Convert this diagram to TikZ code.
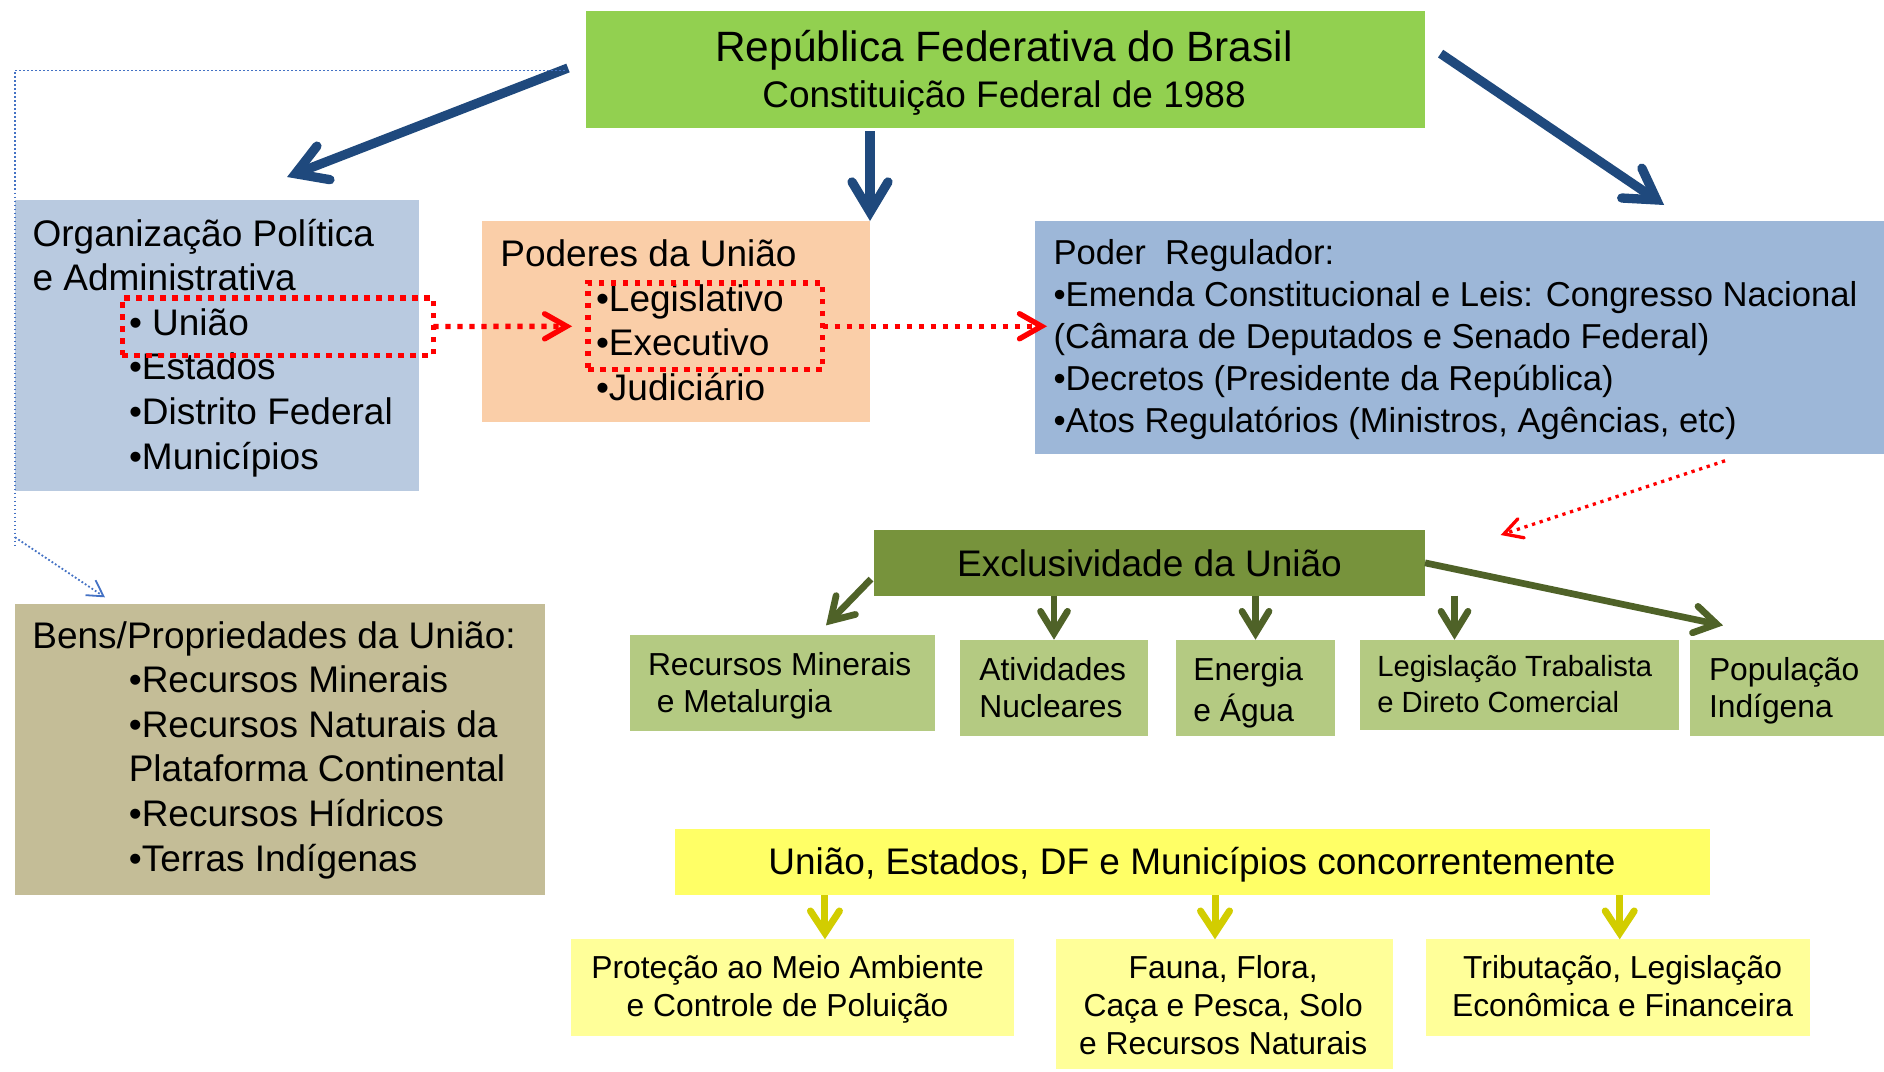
\documentclass[tikz,border=0pt]{standalone}
\usepackage{fontspec}
\setmainfont{Liberation Sans}
\usetikzlibrary{arrows.meta,calc}
\definecolor{repgreen}{HTML}{92D050}
\definecolor{orgblue}{RGB}{185,202,224}
\definecolor{regblue}{RGB}{157,183,216}
\definecolor{peach}{RGB}{250,206,168}
\definecolor{benstan}{HTML}{C4BD97}
\definecolor{excolive}{HTML}{77933C}
\definecolor{olivedark}{HTML}{4F6228}
\definecolor{olivelight}{RGB}{180,202,130}
\definecolor{concyellow}{HTML}{FFFF66}
\definecolor{lightyellow}{HTML}{FFFF99}
\definecolor{yelarrow}{RGB}{210,205,0}
\definecolor{arrowblue}{HTML}{1F497D}
\definecolor{dotblue}{RGB}{68,114,196}
\begin{document}
\begin{tikzpicture}[x=1pt,y=-1pt,
	box/.style={rectangle,anchor=north west,inner sep=0pt,outer sep=0pt},
	txt/.style={align=left,anchor=north west},
	ctxt/.style={align=center,anchor=north,font=\fontsize{15.9}{19}\selectfont},
	big/.style={font=\fontsize{18.5}{22.3}\selectfont},
	small/.style={font=\fontsize{15.9}{18.75}\selectfont},
	bluearr/.style={arrowblue,line width=4.65pt,-{Straight Barb[length=15pt,width=18pt,line cap=round]}},
	greenarr/.style={olivedark,line width=3.35pt,-{Straight Barb[length=11pt,width=13.5pt,line cap=round]}},
	yelarr/.style={yelarrow,line width=3.5pt,-{Straight Barb[length=11pt,width=14.5pt,line cap=round]}},
	reddot/.style={red,line width=2.7pt,dash pattern=on 2.7pt off 3.3pt},
	redtip/.style={-{Straight Barb[length=11pt,width=12.5pt,line cap=round]}},
	bluedot/.style={dotblue,line width=0.9pt,dash pattern=on 0.9pt off 1.1pt}]
					\tikzstyle{every node}+=[inner sep=0pt]
					\useasboundingbox (0,0) rectangle (942,535.5);
					\node[box,fill=repgreen,minimum width=419.5pt,minimum height=58.5pt] (rep) at (293,5.5) {};
					\node[box,fill=orgblue,minimum width=201.85pt,minimum height=145.3pt] (org) at (7.5,100) {};
					\node[box,fill=peach,minimum width=194.1pt,minimum height=100.5pt] (poderes) at (240.9,110.5) {};
					\node[box,fill=regblue,minimum width=424.5pt,minimum height=116.4pt] (reg) at (517.5,110.5) {};
					\node[box,fill=benstan,minimum width=265pt,minimum height=145.5pt] (bens) at (7.5,302) {};
					\node[box,fill=excolive,minimum width=275.5pt,minimum height=32.85pt] (exc) at (437,265) {};
					\node[box,fill=olivelight,minimum width=152.7pt,minimum height=48pt] (mine) at (315,317.5) {};
					\node[box,fill=olivelight,minimum width=94pt,minimum height=48.3pt] (nucl) at (480,319.85) {};
					\node[box,fill=olivelight,minimum width=79.5pt,minimum height=48.3pt] (ener) at (588,319.85) {};
					\node[box,fill=olivelight,minimum width=159.5pt,minimum height=45.15pt] (legis) at (680,319.85) {};
					\node[box,fill=olivelight,minimum width=97pt,minimum height=48.3pt] (popu) at (845,319.85) {};
					\node[box,fill=concyellow,minimum width=517.5pt,minimum height=32.8pt] (conc) at (337.5,414.7) {};
					\node[box,fill=lightyellow,minimum width=221.65pt,minimum height=48.35pt] (prot) at (285.35,469.65) {};
					\node[box,fill=lightyellow,minimum width=168.3pt,minimum height=64.85pt] (fauna) at (528,469.65) {};
					\node[box,fill=lightyellow,minimum width=192.2pt,minimum height=48.35pt] (trib) at (712.8,469.65) {};
					\node[anchor=base,font=\fontsize{21.2}{25}\selectfont] (reptitle) at (502,30.7) {República Federativa do Brasil};
					\node[anchor=base,big] (repsub) at (502,53.75) {Constituição Federal de 1988};
					\node[txt,big] (orgtxt) at (16.1,107.2) {\strut Organização Política\\e Administrativa\\\hspace*{48.2pt}• União\\\hspace*{48.2pt}•Estados\\\hspace*{48.2pt}•Distrito Federal\\\hspace*{48.2pt}•Municípios};
					\node[txt,big] (poderestxt) at (250,117.4) {\strut Poderes da União\\\hspace*{47.8pt}•Legislativo\\\hspace*{47.8pt}•Executivo\\\hspace*{47.8pt}•Judiciário};
					\node[txt,font=\fontsize{17.3}{20.9}\selectfont] (regtxt) at (526.6,117.6) {\strut Poder\ \ Regulador:\\•Emenda Constitucional e Leis: Congresso Nacional\\(Câmara de Deputados e Senado Federal)\\•Decretos (Presidente da República)\\•Atos Regulatórios (Ministros, Agências, etc)};
					\node[txt,big] (benstxt) at (16,308.2) {\strut Bens/Propriedades da União:\\\hspace*{48.2pt}•Recursos Minerais\\\hspace*{48.2pt}•Recursos Naturais da\\\hspace*{48.2pt}Plataforma Continental\\\hspace*{48.2pt}•Recursos Hídricos\\\hspace*{48.2pt}•Terras Indígenas};
					\node[anchor=base,big] (exctxt) at (574.75,288) {Exclusividade da União};
					\node[txt,small] (minetxt) at (323.8,324.4) {\strut Recursos Minerais\\\hspace*{4.4pt}e Metalurgia};
					\node[txt,small] (nucltxt) at (489.5,326.9) {\strut Atividades\\Nucleares};
					\node[txt,small] (enertxt) at (596.5,326.9) {\strut Energia\\e Água};
					\node[txt,font=\fontsize{14.6}{17.7}\selectfont] (legistxt) at (688.5,325.9) {\strut Legislação Trabalista\\e Direto Comercial};
					\node[txt,small] (poputxt) at (854.3,326.9) {\strut População\\Indígena};
					\node[anchor=base,big] (conctxt) at (596,437.25) {União, Estados, DF e Municípios concorrentemente};
					\node[ctxt] (prottxt) at (393.8,475.95) {\strut Proteção ao Meio Ambiente\\e Controle de Poluição};
					\node[ctxt] (faunatxt) at (611.6,475.95) {\strut Fauna, Flora,\\Caça e Pesca, Solo\\e Recursos Naturais};
					\node[ctxt] (tribtxt) at (811.3,475.95) {\strut Tributação, Legislação\\Econômica e Financeira};
					\node[box,reddot,draw,minimum width=155.5pt,minimum height=28.75pt] (uniao) at (61.15,148.9) {};
					\node[box,reddot,draw,minimum width=117.3pt,minimum height=43.45pt] (legexec) at (294.05,141.4) {};
					\coordinate (dotend) at (7.5,274.15);
					\coordinate (dotturn) at (7.5,268.65);
					\draw [bluearr] ($(rep.west)+(-9,-0.75)$) -- ($(org.north)+(35.1,-11.5)$);
					\draw [bluearr,shorten <=1.5pt] (rep.south -| poderes.north east) -- (poderes.north east);
					\draw [bluearr] ($(rep.north east)+(7.8,21.3)$) -- ($(reg.north)+(102.3,-8)$);
					\draw [bluedot] ($(rep.west)+(-10.5,0.5)$) -| (dotend);
					\draw [bluedot,-{Straight Barb[length=7.8pt,width=9pt]}] (dotturn) -- ($(bens.north)+(-87.5,-3.35)$);
					\draw [reddot,redtip,shorten >=8pt] (uniao.east) -- (legexec.west);
					\draw [reddot,redtip,shorten >=-6pt] (legexec.east) -- (reg.west |- legexec.east);
					\draw [red,line width=1.65pt,dash pattern=on 1.65pt off 2.35pt,-{Straight Barb[length=9pt,width=10pt,line cap=round]}] ($(reg.south)+(132.75,3.5)$) -- ($(exc.north east)+(37.85,2.5)$);
					\draw [greenarr] ($(exc.west)+(-1.5,8.1)$) -- ($(mine.north)+(21.65,-4.8)$);
					\draw [greenarr] (exc.south -| nucl.north) -- (nucl.north);
					\draw [greenarr] (exc.south -| ener.north) -- (ener.north);
					\draw [greenarr] ($(legis.north)+(-32.5,-22)$) -- ($(legis.north)+(-32.5,0)$);
					\draw [greenarr] (exc.east) -- ($(popu.north)+(-32,-7.15)$);
					\draw [yelarr] ($(prot.north)+(16.3,-22.15)$) -- ($(prot.north)+(16.3,0)$);
					\draw [yelarr] ($(fauna.north)+(-4.65,-22.15)$) -- ($(fauna.north)+(-4.65,0)$);
					\draw [yelarr] ($(trib.north)+(0.95,-22.15)$) -- ($(trib.north)+(0.95,0)$);
				\end{tikzpicture}
\end{document}
